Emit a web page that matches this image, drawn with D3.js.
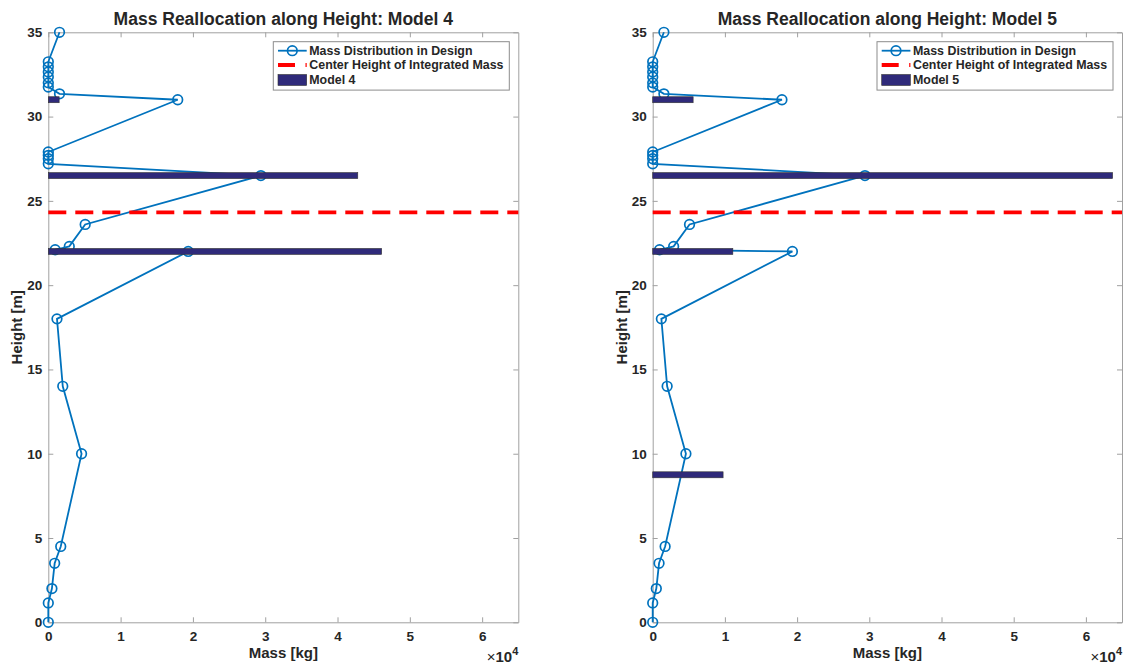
<!DOCTYPE html>
<html>
<head>
<meta charset="utf-8">
<script src="https://cdn.jsdelivr.net/npm/d3@7/dist/d3.min.js"></script>
<style>
  body { margin: 0; background: #fff; }
  svg text { font-family: "Liberation Sans", Arial, sans-serif; font-weight: bold; fill: #262626; }
</style>
</head>
<body>
<svg id="chart" width="1126" height="668"></svg>
<script>
// mass distribution in design (height in m, mass in kg)
const designHeight = [0, 1.15, 2, 3.5, 4.5, 10, 14, 18, 22, 22.1, 22.3, 23.6, 26.5,
  27.2, 27.5, 27.7, 27.9, 31, 31.35, 31.75, 32, 32.35, 32.65, 32.95, 33.25, 35];
const designMass = [0, 0, 500, 880, 1720, 4600, 2000, 1200, 19350, 950, 2900, 5100, 29400,
  0, 0, 0, 0, 17900, 1550, 0, 0, 0, 0, 0, 0, 1550];

const centerHeight = 24.32;

const model4Height = [31, 26.5, 22];
const model4Mass = [1500, 42800, 46100];

const model5Height = [31, 26.5, 22, 8.75];
const model5Mass = [5600, 63700, 11100, 9750];

const xTickValues = [0, 1, 2, 3, 4, 5, 6]; // x 10^4
const yTickValues = [0, 5, 10, 15, 20, 25, 30, 35];

const legendLabels = ["Mass Distribution in Design", "Center Height of Integrated Mass"];

const blue = "#0072BD", red = "#FF0000", navy = "#2f2a7a", axisGrey = "#a0a0a0";

const svg = d3.select("#chart");

const panels = [
  { title: "Mass Reallocation along Height: Model 4", name: "Model 4", left: 48.3, right: 518.3, bh: model4Height, bm: model4Mass },
  { title: "Mass Reallocation along Height: Model 5", name: "Model 5", left: 652.7, right: 1122, bh: model5Height, bm: model5Mass }
];
const plotTop = 32.3, plotBottom = 622.3;

panels.forEach(p => drawPanel(p));

function drawPanel(p) {
  const x = d3.scaleLinear().domain([0, 65000]).range([p.left, p.right]);
  const y = d3.scaleLinear().domain([0, 35]).range([plotBottom, plotTop]);
  const g = svg.append("g");
  const xt = xTickValues.map(d => d * 1e4);

  // axes (ticks point inward, box on)
  const styleAxis = sel => {
    sel.selectAll(".domain").attr("stroke", axisGrey);
    sel.selectAll(".tick line").attr("stroke", axisGrey);
    sel.selectAll("text").attr("fill", "#262626")
      .style("font-size", "13.5px").style("font-family", "Liberation Sans, Arial, sans-serif").style("font-weight", "bold");
  };
  g.append("g").attr("transform", `translate(0,${plotBottom})`)
    .call(d3.axisBottom(x).tickValues(xt).tickFormat(d => d / 1e4).tickSizeInner(-5).tickSizeOuter(0).tickPadding(9))
    .call(styleAxis);
  g.append("g").attr("transform", `translate(0,${plotTop})`)
    .call(d3.axisTop(x).tickValues(xt).tickFormat("").tickSizeInner(-5).tickSizeOuter(0))
    .call(styleAxis);
  g.append("g").attr("transform", `translate(${p.left},0)`)
    .call(d3.axisLeft(y).tickValues(yTickValues).tickSizeInner(-5).tickSizeOuter(0).tickPadding(6))
    .call(styleAxis);
  g.append("g").attr("transform", `translate(${p.right},0)`)
    .call(d3.axisRight(y).tickValues(yTickValues).tickFormat("").tickSizeInner(-5).tickSizeOuter(0))
    .call(styleAxis);

  // design mass line with circle markers
  const pts = designHeight.map((h, i) => [designMass[i], h]);
  g.append("path").datum(pts)
    .attr("fill", "none").attr("stroke", blue).attr("stroke-width", 1.8)
    .attr("d", d3.line().x(d => x(d[0])).y(d => y(d[1])));
  g.selectAll("circle.m").data(pts).enter().append("circle")
    .attr("class", "m")
    .attr("cx", d => x(d[0])).attr("cy", d => y(d[1])).attr("r", 4.8)
    .attr("fill", "none").attr("stroke", blue).attr("stroke-width", 1.7);

  // center height of integrated mass
  g.append("line")
    .attr("x1", x(0)).attr("x2", x(65000))
    .attr("y1", y(centerHeight)).attr("y2", y(centerHeight))
    .attr("stroke", red).attr("stroke-width", 3.8).attr("stroke-dasharray", "18,9");

  // reallocated mass bars
  g.selectAll("rect.bar").data(p.bh.map((h, i) => [p.bm[i], h])).enter().append("rect")
    .attr("class", "bar")
    .attr("x", x(0)).attr("y", d => y(d[1]) - 3)
    .attr("width", d => x(d[0]) - x(0)).attr("height", 6)
    .attr("fill", navy).attr("stroke", "#333").attr("stroke-width", 0.6);

  // titles and labels
  const cx = (p.left + p.right) / 2;
  g.append("text").attr("x", cx).attr("y", 25).attr("text-anchor", "middle")
    .style("font-size", "17.5px").attr("fill", "#000").text(p.title);
  g.append("text").attr("x", cx).attr("y", 658).attr("text-anchor", "middle")
    .style("font-size", "15px").text("Mass [kg]");
  g.append("text").attr("transform", `translate(${p.left - 26},${(plotTop + plotBottom) / 2}) rotate(-90)`)
    .attr("text-anchor", "middle").style("font-size", "15px").text("Height [m]");
  const ex = g.append("text").attr("x", p.right).attr("y", 662).attr("text-anchor", "end")
    .style("font-size", "14px");
  ex.append("tspan").style("font-weight", "normal").style("font-size", "15px").text("\u00d7");
  ex.append("tspan").style("font-size", "15px").text("10");
  ex.append("tspan").attr("dy", -7).style("font-size", "11px").text("4");

  // legend
  const lx = p.right - 245, ly = plotTop + 9.4;
  const lg = g.append("g").attr("transform", `translate(${lx},${ly})`);
  lg.append("rect").attr("width", 236).attr("height", 48.4)
    .attr("fill", "#fff").attr("stroke", "#8c8c8c").attr("stroke-width", 1);
  const rows = [9, 23.3, 38.3];
  lg.append("line").attr("x1", 4.7).attr("x2", 33.4).attr("y1", rows[0]).attr("y2", rows[0])
    .attr("stroke", blue).attr("stroke-width", 1.8);
  lg.append("circle").attr("cx", 19).attr("cy", rows[0]).attr("r", 4.8)
    .attr("fill", "none").attr("stroke", blue).attr("stroke-width", 1.7);
  lg.append("line").attr("x1", 4.7).attr("x2", 33.4).attr("y1", rows[1]).attr("y2", rows[1])
    .attr("stroke", red).attr("stroke-width", 3.8).attr("stroke-dasharray", "17,10.5");
  lg.append("rect").attr("x", 4.7).attr("y", rows[2] - 5.5).attr("width", 28.7).attr("height", 11)
    .attr("fill", navy).attr("stroke", "#333").attr("stroke-width", 0.6);
  legendLabels.concat([p.name]).forEach((t, i) => {
    lg.append("text").attr("x", 36).attr("y", rows[i]).attr("dy", "0.35em")
      .style("font-size", "12.4px").attr("fill", "#000").text(t);
  });
}
</script>
</body>
</html>
